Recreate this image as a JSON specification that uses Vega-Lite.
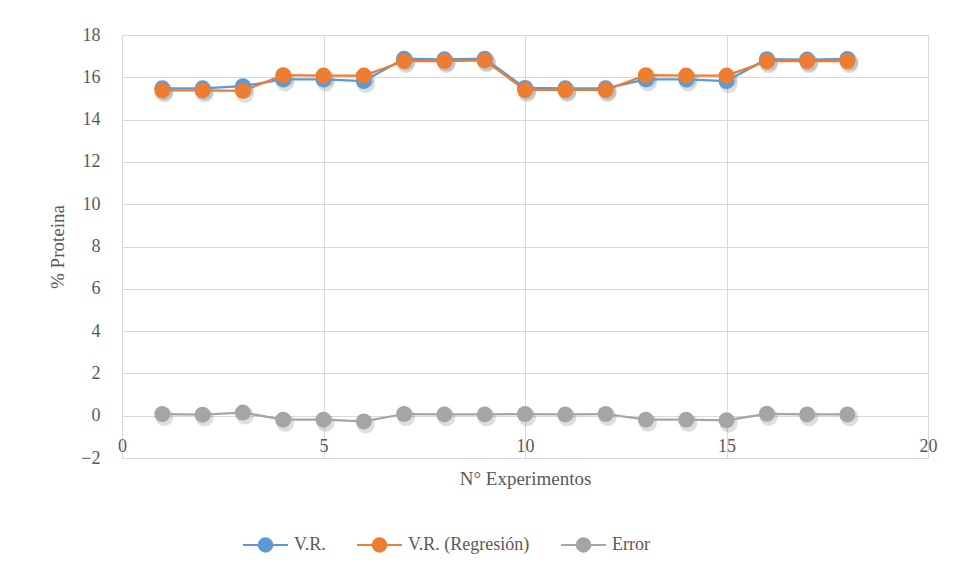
{
  "$schema": "https://vega.github.io/schema/vega-lite/v6.json",
  "width": 806,
  "height": 423,
  "autosize": {"type": "none"},
  "padding": {"left": 122, "top": 35, "right": 31, "bottom": 121},
  "background": "white",
  "config": {
    "view": {"stroke": "#D9D9D9"},
    "font": "Liberation Serif",
    "axis": {
      "gridColor": "#D9D9D9",
      "gridWidth": 1,
      "domain": false,
      "ticks": false,
      "labelFont": "Liberation Serif",
      "labelFontSize": 18,
      "labelColor": "#595959",
      "titleFont": "Liberation Serif",
      "titleFontSize": 19,
      "titleFontWeight": "normal",
      "titleColor": "#595959"
    },
    "legend": {"labelFont": "Liberation Serif"}
  },
  "data": {
    "values": [
      {"x": 1, "serie": "V.R.", "v": 15.48},
      {"x": 2, "serie": "V.R.", "v": 15.48},
      {"x": 3, "serie": "V.R.", "v": 15.58},
      {"x": 4, "serie": "V.R.", "v": 15.9},
      {"x": 5, "serie": "V.R.", "v": 15.9},
      {"x": 6, "serie": "V.R.", "v": 15.82},
      {"x": 7, "serie": "V.R.", "v": 16.88},
      {"x": 8, "serie": "V.R.", "v": 16.85},
      {"x": 9, "serie": "V.R.", "v": 16.88},
      {"x": 10, "serie": "V.R.", "v": 15.5},
      {"x": 11, "serie": "V.R.", "v": 15.48},
      {"x": 12, "serie": "V.R.", "v": 15.48},
      {"x": 13, "serie": "V.R.", "v": 15.9},
      {"x": 14, "serie": "V.R.", "v": 15.9},
      {"x": 15, "serie": "V.R.", "v": 15.82},
      {"x": 16, "serie": "V.R.", "v": 16.86},
      {"x": 17, "serie": "V.R.", "v": 16.84},
      {"x": 18, "serie": "V.R.", "v": 16.87},
      {"x": 1, "serie": "V.R. (Regresión)", "v": 15.38},
      {"x": 2, "serie": "V.R. (Regresión)", "v": 15.38},
      {"x": 3, "serie": "V.R. (Regresión)", "v": 15.36},
      {"x": 4, "serie": "V.R. (Regresión)", "v": 16.1},
      {"x": 5, "serie": "V.R. (Regresión)", "v": 16.08},
      {"x": 6, "serie": "V.R. (Regresión)", "v": 16.08},
      {"x": 7, "serie": "V.R. (Regresión)", "v": 16.77},
      {"x": 8, "serie": "V.R. (Regresión)", "v": 16.77},
      {"x": 9, "serie": "V.R. (Regresión)", "v": 16.8},
      {"x": 10, "serie": "V.R. (Regresión)", "v": 15.4},
      {"x": 11, "serie": "V.R. (Regresión)", "v": 15.4},
      {"x": 12, "serie": "V.R. (Regresión)", "v": 15.4},
      {"x": 13, "serie": "V.R. (Regresión)", "v": 16.1},
      {"x": 14, "serie": "V.R. (Regresión)", "v": 16.08},
      {"x": 15, "serie": "V.R. (Regresión)", "v": 16.08},
      {"x": 16, "serie": "V.R. (Regresión)", "v": 16.76},
      {"x": 17, "serie": "V.R. (Regresión)", "v": 16.77},
      {"x": 18, "serie": "V.R. (Regresión)", "v": 16.77},
      {"x": 1, "serie": "Error", "v": 0.08},
      {"x": 2, "serie": "Error", "v": 0.05},
      {"x": 3, "serie": "Error", "v": 0.15},
      {"x": 4, "serie": "Error", "v": -0.19},
      {"x": 5, "serie": "Error", "v": -0.19},
      {"x": 6, "serie": "Error", "v": -0.27},
      {"x": 7, "serie": "Error", "v": 0.08},
      {"x": 8, "serie": "Error", "v": 0.06},
      {"x": 9, "serie": "Error", "v": 0.06},
      {"x": 10, "serie": "Error", "v": 0.08},
      {"x": 11, "serie": "Error", "v": 0.06},
      {"x": 12, "serie": "Error", "v": 0.08},
      {"x": 13, "serie": "Error", "v": -0.19},
      {"x": 14, "serie": "Error", "v": -0.19},
      {"x": 15, "serie": "Error", "v": -0.22},
      {"x": 16, "serie": "Error", "v": 0.09},
      {"x": 17, "serie": "Error", "v": 0.06},
      {"x": 18, "serie": "Error", "v": 0.06}
    ]
  },
  "encoding": {
    "x": {
      "field": "x",
      "type": "quantitative",
      "scale": {"domain": [0, 20], "nice": false, "zero": false},
      "axis": {
        "values": [0, 5, 10, 15, 20],
        "title": "N° Experimentos",
        "labelPadding": -21,
        "titleY": 20,
        "titleBaseline": "middle",
        "labelFlush": false
      }
    },
    "y": {
      "field": "v",
      "type": "quantitative",
      "scale": {"domain": [-2, 18], "nice": false, "zero": false},
      "axis": {
        "values": [-2, 0, 2, 4, 6, 8, 10, 12, 14, 16, 18],
        "title": "% Proteina",
        "labelPadding": 22,
        "titleX": -65,
        "titleBaseline": "middle"
      }
    }
  },
  "layer": [
    {
      "mark": {"type": "point", "filled": true, "size": 330, "color": "#000000", "opacity": 0.13, "xOffset": 2, "yOffset": 3},
      "encoding": {"detail": {"field": "serie"}}
    },
    {
      "mark": {"type": "line", "strokeWidth": 2.25},
      "encoding": {
        "color": {
          "field": "serie",
          "type": "nominal",
          "scale": {"domain": ["V.R.", "V.R. (Regresión)", "Error"], "range": ["#5B9BD5", "#ED7D31", "#A5A5A5"]},
          "legend": {
            "orient": "none",
            "direction": "horizontal",
            "legendX": 120,
            "legendY": 486,
            "title": null,
            "symbolType": "M-1,0H-0.3M0.3,0H1M0.3,0A0.3,0.3 0 1 1 -0.3,0A0.3,0.3 0 1 1 0.3,0",
            "symbolSize": 2025,
            "symbolStrokeWidth": 2,
            "labelFont": "Liberation Serif",
            "labelFontSize": 18,
            "labelColor": "#595959",
            "labelOffset": 5,
            "columnPadding": 27
          }
        }
      }
    },
    {
      "mark": {"type": "point", "filled": true, "size": 255, "opacity": 1},
      "encoding": {
        "color": {"field": "serie", "type": "nominal"}
      }
    }
  ]
}
